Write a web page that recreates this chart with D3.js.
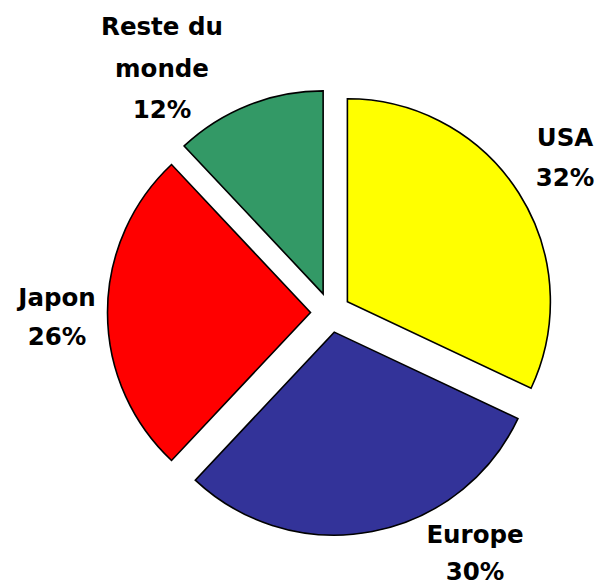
<!DOCTYPE html>
<html>
<head>
<meta charset="utf-8">
<script src="https://cdn.jsdelivr.net/npm/d3@7"></script>
<style>
html,body{margin:0;padding:0;background:#fff;}
svg{display:block;}
</style>
</head>
<body>
<svg id="chart" width="604" height="586"></svg>
<script>
const categories = ["USA", "Europe", "Japon", "Reste du monde"];
const values = [32, 30, 26, 12];
const labelLines = [["USA", "32%"], ["Europe", "30%"], ["Japon", "26%"], ["Reste du", "monde", "12%"]];
const colors = ["#FFFF00", "#333399", "#FF0000", "#339966"];

// layout
const cx = 330.5, cy = 312.5, radius = 203, explode = 20;
const labelX = [565, 475, 57, 162];
const labelY0 = [146, 543, 305.5, 35];
const lineH = [40, 36.5, 39.5, 41.5];

const svg = d3.select("#chart");
const pie = d3.pie().sort(null).value(d => d).startAngle(0).endAngle(2 * Math.PI);
const arcs = pie(values);
const arc = d3.arc().innerRadius(0).outerRadius(radius);

const g = svg.append("g").attr("transform", `translate(${cx},${cy})`);
g.selectAll("path").data(arcs).enter().append("path")
  .attr("d", arc)
  .attr("fill", (d, i) => colors[i])
  .attr("stroke", "#000")
  .attr("stroke-width", 1.6)
  .attr("stroke-linejoin", "miter")
  .attr("transform", d => {
    const m = (d.startAngle + d.endAngle) / 2;
    return `translate(${explode * Math.sin(m)},${-explode * Math.cos(m)})`;
  });

const labels = svg.selectAll("text.lbl").data(categories).enter().append("text")
  .attr("class", "lbl")
  .attr("text-anchor", "middle")
  .attr("font-family", "'DejaVu Sans', sans-serif")
  .attr("font-weight", "bold")
  .attr("font-size", 24.5)
  .attr("fill", "#000");
labels.each(function(c, i) {
  const t = d3.select(this);
  labelLines[i].forEach((ln, j) => {
    t.append("tspan").attr("x", labelX[i]).attr("y", labelY0[i] + j * lineH[i]).text(ln);
  });
});
</script>
</body>
</html>
